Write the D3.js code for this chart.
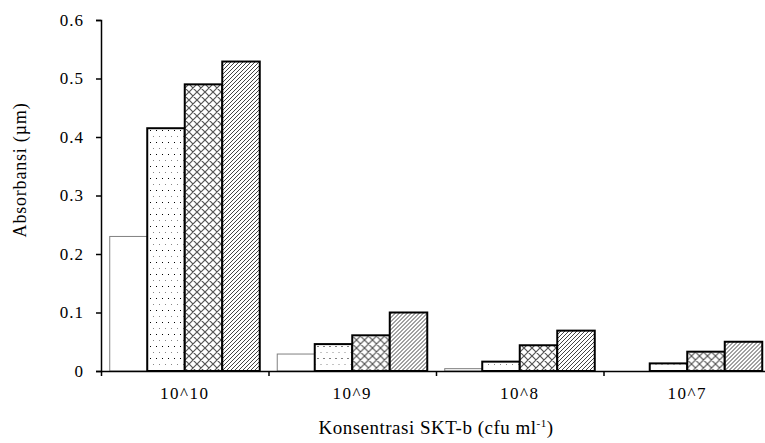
<!DOCTYPE html>
<html>
<head>
<meta charset="utf-8">
<script src="https://cdn.jsdelivr.net/npm/d3@7"></script>
<style>
  body { margin: 0; background: #fff; }
  text { font-family: "Liberation Serif", "Times New Roman", serif; fill: #000; }
</style>
</head>
<body>
<div id="chart"></div>
<script>
var categories = ["10^10", "10^9", "10^8", "10^7"];
var series = ["s1", "s2", "s3", "s4"];
var values = [
  [0.230, 0.415, 0.490, 0.529],
  [0.029, 0.046, 0.061, 0.100],
  [0.004, 0.016, 0.044, 0.069],
  [0.000, 0.013, 0.033, 0.050]
];
var yTicks = [0, 0.1, 0.2, 0.3, 0.4, 0.5, 0.6];

var W = 765, H = 443;
var margin = {left: 101, top: 20, bottom: 72},
    width = 670,
    height = H - margin.top - margin.bottom;

var svg = d3.select("#chart").append("svg")
  .attr("width", W)
  .attr("height", H);

var defs = svg.append("defs");

/* dotted fill, sparse and staggered */
var pDot = defs.append("pattern")
  .attr("id", "dots").attr("patternUnits", "userSpaceOnUse")
  .attr("width", 6).attr("height", 12);
pDot.append("rect").attr("width", 6).attr("height", 12).attr("fill", "#fff");
pDot.append("rect").attr("x", 1).attr("y", 2).attr("width", 1).attr("height", 1).attr("fill", "#000");
pDot.append("rect").attr("x", 4).attr("y", 8).attr("width", 1).attr("height", 1).attr("fill", "#888");

/* cross hatch */
var pCross = defs.append("pattern")
  .attr("id", "cross").attr("patternUnits", "userSpaceOnUse")
  .attr("width", 8).attr("height", 8);
pCross.append("rect").attr("width", 8).attr("height", 8).attr("fill", "#fff");
pCross.append("path")
  .attr("d", "M0,0L8,8M0,8L8,0M-1,1L1,-1M7,9L9,7M-1,7L1,9M7,-1L9,1")
  .attr("stroke", "#555").attr("stroke-width", 1.2);

/* diagonal hatch */
var pDiag = defs.append("pattern")
  .attr("id", "diag").attr("patternUnits", "userSpaceOnUse")
  .attr("width", 4).attr("height", 4);
pDiag.append("rect").attr("width", 4).attr("height", 4).attr("fill", "#fff");
pDiag.append("path")
  .attr("d", "M0,4L4,0M-1,1L1,-1M3,5L5,3")
  .attr("stroke", "#444").attr("stroke-width", 1);

var fills = ["#fff", "url(#dots)", "url(#cross)", "url(#diag)"];
var strokes = ["#808080", "#000", "#000", "#000"];
var strokeW = [1, 2, 2, 2];

var g = svg.append("g")
  .attr("transform", "translate(" + margin.left + "," + margin.top + ")");

var x0 = d3.scaleBand().domain(categories).range([0, width]).padding(0);
var x1 = d3.scaleBand().domain(series).range([0, x0.bandwidth()])
  .paddingInner(0).paddingOuter(0.233);
var y = d3.scaleLinear().domain([0, 0.6]).range([height, 0]);

var groups = g.selectAll(".grp")
  .data(values)
  .enter().append("g")
  .attr("class", "grp")
  .attr("transform", function(d, i) { return "translate(" + x0(categories[i]) + ",0)"; });

groups.selectAll("rect")
  .data(function(d) {
    return d.map(function(v, j) { return {v: v, j: j}; })
      .filter(function(o) { return o.v > 0; });
  })
  .enter().append("rect")
  .attr("x", function(d) { return x1(series[d.j]); })
  .attr("y", function(d) { return y(d.v); })
  .attr("width", x1.bandwidth())
  .attr("height", function(d) { return height - y(d.v); })
  .attr("fill", function(d) { return fills[d.j]; })
  .attr("stroke", function(d) { return strokes[d.j]; })
  .attr("stroke-width", function(d) { return strokeW[d.j]; });

/* y axis */
var gY = g.append("g")
  .call(d3.axisLeft(y).tickValues(yTicks).tickSize(5).tickPadding(12)
    .tickFormat(function(d) { return d === 0 ? "0" : d3.format(".1f")(d); }));
gY.select(".domain").attr("stroke-width", 1.5);
gY.selectAll(".tick line").attr("stroke-width", 1.5);
gY.selectAll("text").style("font-size", "17px").style("letter-spacing", "1px")
  .attr("font-family", null);

/* x axis: ticks on category boundaries */
var xb = d3.scaleLinear().domain([0, categories.length]).range([0, width]);
var gX = g.append("g")
  .attr("transform", "translate(0," + height + ")")
  .call(d3.axisBottom(xb).ticks(categories.length).tickSize(5).tickSizeOuter(0)
    .tickFormat(""));
gX.select(".domain").attr("stroke-width", 1.5);
gX.selectAll(".tick line").attr("stroke-width", 1.5);

var gXl = g.append("g")
  .attr("transform", "translate(0," + height + ")")
  .call(d3.axisBottom(x0).tickSize(0).tickPadding(16));
gXl.select(".domain").remove();
gXl.selectAll("text").style("font-size", "17px").style("letter-spacing", "1.5px")
  .attr("font-family", null);

/* axis titles */
svg.append("text")
  .attr("transform", "translate(26,170) rotate(-90)")
  .attr("text-anchor", "middle")
  .style("font-size", "18px")
  .style("letter-spacing", "0.8px")
  .text("Absorbansi (µm)");

var xt = svg.append("text")
  .attr("x", margin.left + width / 2)
  .attr("y", 434)
  .attr("text-anchor", "middle")
  .style("font-size", "19px")
  .style("letter-spacing", "0.5px");
xt.append("tspan").text("Konsentrasi SKT-b (cfu ml");
xt.append("tspan").attr("dy", -7).style("font-size", "11px").text("-1");
xt.append("tspan").attr("dy", 7).text(")");
</script>
</body>
</html>
